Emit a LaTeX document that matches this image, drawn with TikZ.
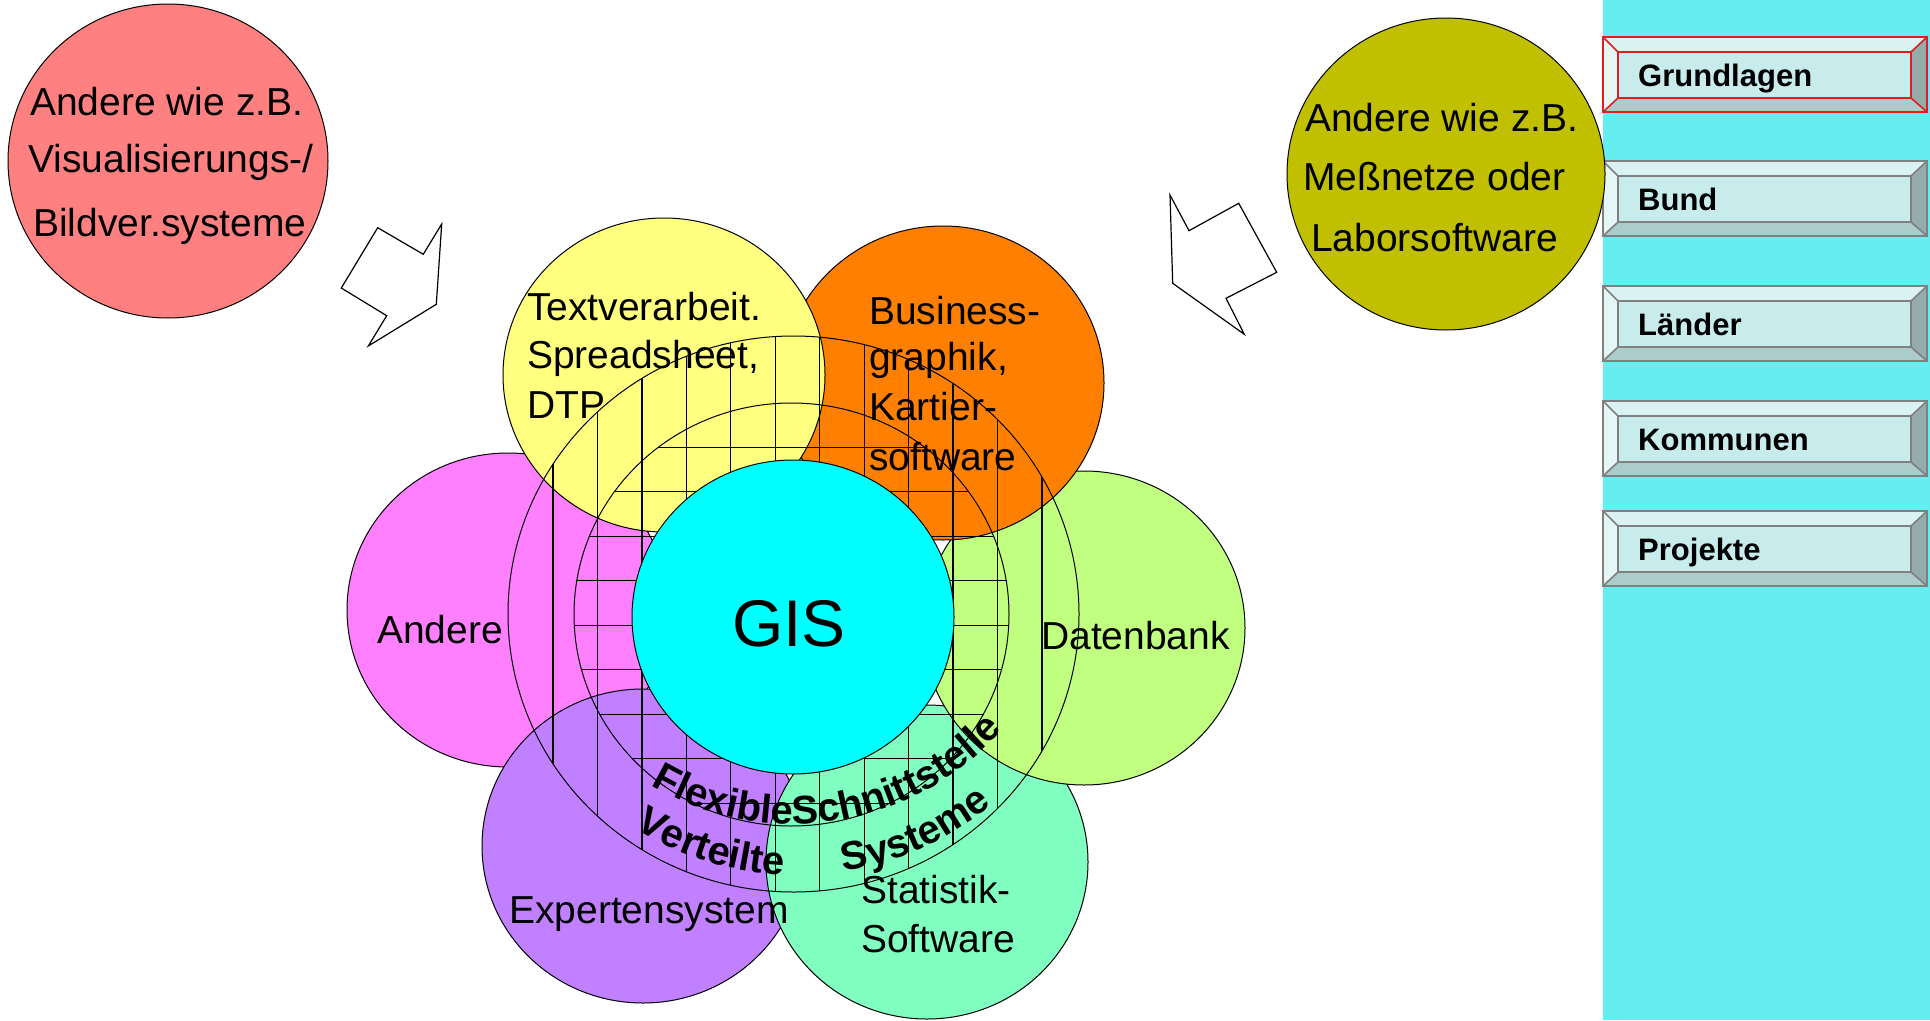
\documentclass[tikz,border=0pt]{standalone}
\usepackage{fontspec}
\setmainfont{Liberation Sans}
\usetikzlibrary{shapes.geometric,decorations.text}
\definecolor{cRed}{RGB}{255,128,128}
\definecolor{cOlive}{RGB}{192,192,0}
\definecolor{cYellow}{RGB}{255,255,128}
\definecolor{cOrange}{RGB}{255,128,0}
\definecolor{cMagenta}{RGB}{255,128,255}
\definecolor{cLtGreen}{RGB}{192,255,128}
\definecolor{cPurple}{RGB}{192,128,255}
\definecolor{cMint}{RGB}{128,255,192}
\definecolor{cCyan}{RGB}{0,255,255}
\definecolor{cSide}{RGB}{100,238,240}
\definecolor{bFace}{RGB}{200,236,236}
\definecolor{bTop}{RGB}{218,242,242}
\definecolor{bLeft}{RGB}{228,246,246}
\definecolor{bBot}{RGB}{172,204,204}
\definecolor{bRight}{RGB}{150,172,172}
\definecolor{bLine}{RGB}{128,128,128}
\definecolor{bRedLine}{RGB}{225,30,30}
\newcommand\lblfont{\fontsize{39}{44}\selectfont}
\newcommand\gisfont{\fontsize{66}{72}\selectfont}
\newcommand\btnfont{\fontsize{31}{36}\selectfont\bfseries}
\newcommand\curvefont{\fontsize{40}{44}\selectfont\bfseries}
\newcommand\bevelbtn[4]{%
  \pgfmathsetmacro\yt{#2}%
  \pgfmathsetmacro\yb{#2+75}%
  \pgfmathsetmacro\yit{#2+15}%
  \pgfmathsetmacro\yib{#2+61}%
  \pgfmathsetmacro\ybase{#2+49}%
  \fill[bTop] (1603,\yt) -- (1927,\yt) -- (1911,\yit) -- (1618,\yit) -- cycle;
  \fill[bLeft] (1603,\yt) -- (1618,\yit) -- (1618,\yib) -- (1603,\yb) -- cycle;
  \fill[bBot] (1603,\yb) -- (1618,\yib) -- (1911,\yib) -- (1927,\yb) -- cycle;
  \fill[bRight] (1927,\yt) -- (1911,\yit) -- (1911,\yib) -- (1927,\yb) -- cycle;
  \fill[bFace] (1618,\yit) rectangle (1911,\yib);
  \draw[#4, line width=1.6pt] (1603,\yt) rectangle (1927,\yb)
     (1618,\yit) rectangle (1911,\yib)
     (1603,\yt) -- (1618,\yit) (1927,\yt) -- (1911,\yit)
     (1603,\yb) -- (1618,\yib) (1927,\yb) -- (1911,\yib);
  \node[btntext] (#1) at (1638,\ybase) {#3};
}
\begin{document}
\begin{tikzpicture}[x=1pt,y=-1pt,
  blob/.style={ellipse, draw=black, line width=1pt, inner sep=0pt,
     minimum width=322pt, minimum height=314pt},
  ring/.style={ellipse, draw=black, line width=1pt, inner sep=0pt},
  lbl/.style={font=\lblfont, inner sep=0pt, anchor=base west},
  btntext/.style={font=\btnfont, inner sep=0pt, anchor=base west},
  gridline/.style={draw=black, line width=1.2pt},
  blockarrow/.style={draw=black, fill=white, line width=1.2pt, line join=miter},
  curved/.style={decorate, decoration={text along path, text align=center}}]
\useasboundingbox (0,0) rectangle (1930,1020);
\fill[white] (0,0) rectangle (1930,1020);
% sidebar
\fill[cSide] (1603,0) rectangle (1930,1020);
\bevelbtn{grundlagen}{37}{Grundlagen}{bRedLine}
\bevelbtn{bund}{161}{Bund}{bLine}
\bevelbtn{laender}{286}{Länder}{bLine}
\bevelbtn{kommunen}{401}{Kommunen}{bLine}
\bevelbtn{projekte}{511}{Projekte}{bLine}
% outer circles
\node[blob, fill=cRed, minimum width=320pt] (redc) at (168,161) {};
\node[lbl] (red1) at (30,115) {Andere wie z.B.};
\node[lbl] (red2) at (28,172) {Visualisierungs-/};
\node[lbl] (red3) at (33,236) {Bildver.systeme};
\node[blob, fill=cOlive, minimum width=318pt, minimum height=312pt] (olivec) at (1446,174) {};
\node[lbl] (olive1) at (1305,131) {Andere wie z.B.};
\node[lbl] (olive2) at (1303,190) {Meßnetze oder};
\node[lbl] (olive3) at (1311,251) {Laborsoftware};
% block arrows
\draw[blockarrow] (377.7,227.7) -- (423.3,254.3) -- (441.7,224) -- (436.3,304.3)
   -- (368.3,346) -- (386.7,315.7) -- (341.3,288) -- cycle;
\draw[blockarrow] (1170,195) -- (1189,230.7) -- (1238.7,203.3) -- (1276.7,272.3)
   -- (1226,298.3) -- (1244.3,334.3) -- (1172.7,283.3) -- cycle;
% petals (bottom to top)
\node[blob, fill=cMagenta] (andere) at (508,610) {};
\node[blob, fill=cPurple] (experten) at (643,846) {};
\node[blob, fill=cMint] (statistik) at (927,862) {};
\node[blob, fill=cLtGreen] (datenbank) at (1084,628) {};
\node[blob, fill=cOrange] (business) at (943,383) {};
\node[blob, fill=cYellow] (textv) at (664,375) {};
% petal labels
\node[lbl] (t1) at (527,320) {Textverarbeit.};
\node[lbl] (t2) at (527,368) {Spreadsheet,};
\node[lbl] (t3) at (527,418) {DTP};
\node[lbl] (b1) at (869,324) {Business-};
\node[lbl] (b2) at (869,370) {graphik,};
\node[lbl] (b3) at (869,420) {Kartier-};
\node[lbl] (b4) at (869,470) {software};
\node[lbl] (a1) at (377,643) {Andere};
\node[lbl] (d1) at (1041,649) {Datenbank};
\node[lbl] (e1) at (509,923) {Expertensystem};
\node[lbl] (s1) at (861,903) {Statistik-};
\node[lbl] (s2) at (861,952) {Software};
% grid
\begin{scope}
  \clip (793.5,614) ellipse [x radius=285.5, y radius=278];
  \foreach \k in {0,...,11}
    \draw[gridline] ({553+44.45*\k},300) -- ({553+44.45*\k},930);
\end{scope}
\begin{scope}
  \clip (791.5,614.5) ellipse [x radius=217.5, y radius=211.5];
  \foreach \k in {0,...,8}
    \draw[gridline] (560,{447.3+44.5*\k}) -- (1030,{447.3+44.5*\k});
\end{scope}
\node[ring, minimum width=571pt, minimum height=556pt] (outerring) at (793.5,614) {};
\node[ring, minimum width=435pt, minimum height=423pt] (innerring) at (791.5,614.5) {};
% GIS
\node[blob, fill=cCyan] (gis) at (793,617) {};
\node[font=\gisfont, inner sep=0pt, anchor=base] (gislbl) at (789,646) {GIS};
% curved texts
\path[curved, decoration={text={|\curvefont|FlexibleSchnittstelle}}]
  (793,544) ++(120.6:280) arc[start angle=120.6, end angle=41.4, radius=280];
\path[curved, decoration={text={|\curvefont|Verteilte}}]
  (797,569) ++(137.25:306) arc[start angle=137.25, end angle=77.25, radius=306];
\path[curved, decoration={text={|\curvefont|Systeme}}]
  (797,569) ++(95.8:306) arc[start angle=95.8, end angle=35.8, radius=306];
\end{tikzpicture}
\end{document}
